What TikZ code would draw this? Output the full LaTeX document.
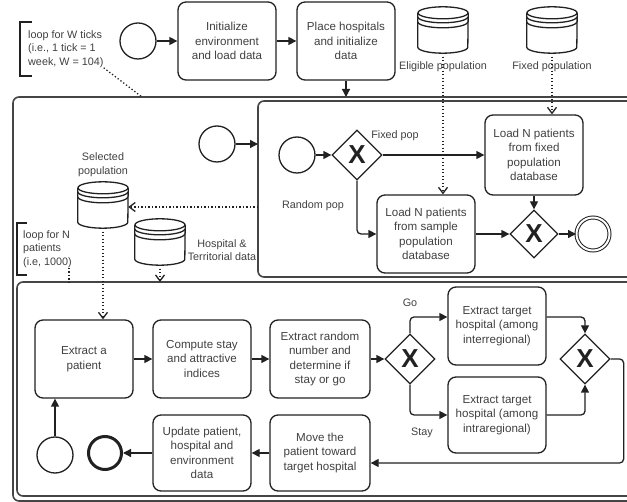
\documentclass[tikz,border=0pt]{standalone}
\usepackage{fontspec}
\setmainfont{Liberation Sans}
\usetikzlibrary{arrows.meta,shapes.geometric,calc}

\definecolor{linecol}{gray}{0.13}
\definecolor{framecol}{gray}{0.27}
\definecolor{textcol}{gray}{0.25}

\tikzset{
  task/.style={draw=linecol, line width=1.3pt, rounded corners=8pt, minimum width=98pt,
    minimum height=78pt, align=center, text=textcol, inner sep=2pt,
    font=\fontsize{11.6}{14.5}\selectfont},
  event/.style={circle, draw=linecol, line width=1.3pt, minimum size=36pt, inner sep=0pt},
  endev/.style={event, line width=3pt, minimum size=33pt},
  enddouble/.style={event, line width=1pt, double=white, double distance=2pt, minimum size=33pt},
  gate/.style={diamond, aspect=1, draw=linecol, line width=1.3pt, minimum width=50pt,
    minimum height=50pt, inner sep=0pt, text=linecol, font=\bfseries\fontsize{26}{26}\selectfont},
  flow/.style={draw=linecol, line width=1.3pt, rounded corners=4pt, -{Triangle[length=8pt,width=8pt]}},
  assoc/.style={draw=linecol, line width=1.3pt, dash pattern=on 1.3pt off 2.2pt,
    -{Straight Barb[length=6pt,width=9pt]}},
  annot/.style={draw=linecol, line width=1.3pt, dash pattern=on 1.3pt off 2.2pt},
  bracket/.style={draw=linecol, line width=1.5pt},
  frame/.style={draw=framecol, line width=1.6pt, rounded corners=6pt},
  lbl/.style={text=textcol, inner sep=0pt, align=center, font=\fontsize{10.8}{13.6}\selectfont},
  dsbox/.style={minimum width=50pt, minimum height=46pt, inner sep=0pt},
  dsline/.style={draw=linecol, line width=1.3pt},
}

% data store: name, x, y
\newcommand{\dstore}[3]{%
  \node[dsbox] (#1) at (#2,#3) {};
  \draw[dsline] ($(#1.north)+(0,6)$) ellipse (25 and 6);
  \draw[dsline] ($(#1.north west)+(0,6)$) -- ($(#1.south west)+(0,-6)$) arc (180:0:25 and 6)
    -- ($(#1.north east)+(0,6)$);
  \draw[dsline] ($(#1.north west)+(0,10)$) arc (180:0:25 and 6);
  \draw[dsline] ($(#1.north west)+(0,15)$) arc (180:0:25 and 6);
}

\begin{document}
\begin{tikzpicture}[x=1pt,y=-1pt]
    \useasboundingbox (0,0) rectangle (627,502);
    \clip (0,0) rectangle (627,502);

    % frames
    \draw[frame] (13,97) rectangle (680,501);
    \draw[frame] (258,101) rectangle (680,277);
    \draw[frame] (17,282) rectangle (680,496);
    \coordinate (wtop) at (346,97);
    \coordinate (wnote) at (142,97);
    \coordinate (loadin) at (258,144);
    \coordinate (loadout) at (258,207);
    \coordinate (ntop) at (160,282);
    \coordinate (nnote) at (69,282);

    % top level
    \node[lbl, align=left, anchor=west] (wloop) at (28,49) {loop for W ticks\\(i.e., 1 tick = 1\\week, W = 104)};
    \draw[bracket] (32,22) -- (20,22) -- (20,76) -- (32,76);
    \node[event] (s0) at (138,41) {};
    \node[task] (init) at (227,41) {Initialize\\environment\\and load data};
    \node[task] (place) at (346,41) {Place hospitals\\and initialize\\data};
    \dstore{dbelig}{443}{30}
    \dstore{dbfix}{552}{30}
    \node[lbl] (lelig) at (443,67) {Eligible population};
    \node[lbl] (lfix) at (552,67) {Fixed population};
    \draw[annot] (wloop.south east) -- (wnote);
    \draw[flow] (s0) -- (init);
    \draw[flow] (init) -- (place);
    \draw[flow] (place) -- (wtop);

    % week loop
    \node[event] (s1) at (217,144) {};
    \draw[flow] (s1) -- (loadin);
    \dstore{dbsel}{103}{205}
    \node[lbl] (lsel) at (103,165) {Selected\\population};
    \dstore{dbhosp}{160}{242}
    \node[lbl] (lhosp) at (222,250) {Hospital \&\\Territorial data};
    \node[lbl, align=left, anchor=west] (nloop) at (23,249) {loop for N\\patients\\(i.e, 1000)};
    \draw[bracket] (27,223) -- (17,223) -- (17,275) -- (27,275);
    \draw[annot] (nnote |- nloop.south) -- (nnote);
    \draw[assoc] (loadout) -- (loadout -| dbsel.east);
    \draw[assoc] (dbhosp.south) -- (ntop);

    % loading subprocess
    \node[event] (s2) at (297,155) {};
    \node[gate] (g1) at (357,155) {X};
    \node[task, minimum height=80pt] (fixed) at (534,155) {Load N patients\\from fixed\\population\\database};
    \node[task] (sample) at (426,234) {Load N patients\\from sample\\population\\database};
    \node[gate, minimum width=48pt, minimum height=48pt] (g2) at (534,234) {X};
    \node[enddouble] (e1) at (593,234) {};
    \node[lbl] (lfixpop) at (395,136) {Fixed pop};
    \node[lbl] (lrandpop) at (313,206) {Random pop};
    \draw[flow] (s2) -- (g1);
    \draw[flow] (g1) -- (fixed);
    \draw[flow] (g1.south) |- (sample);
    \draw[flow] (sample) -- (g2);
    \draw[flow] (fixed) -- (g2);
    \draw[flow] (g2) -- (e1);
    \draw[assoc] (dbelig.south) -- (dbelig.south |- sample.north);
    \draw[assoc] (dbfix.south) -- (dbfix.south |- fixed.north);

    % patient loop
    \node[task] (extract) at (84,359) {Extract a\\patient};
    \node[task] (compute) at (202,359) {Compute stay\\and attractive\\indices};
    \node[task, minimum width=100pt] (random) at (320,359) {Extract random\\number and\\determine if\\stay or go};
    \node[gate] (g3) at (410,359) {X};
    \node[task] (inter) at (497,326) {Extract target\\hospital (among\\interregional)};
    \node[task, minimum height=76pt] (intra) at (497,415) {Extract target\\hospital (among\\intraregional)};
    \node[gate] (g4) at (585,359) {X};
    \node[task, minimum width=100pt, minimum height=76pt] (move) at (320,453) {Move the\\patient toward\\target hospital};
    \node[task, minimum height=76pt] (update) at (202,453) {Update patient,\\hospital and\\environment\\data};
    \node[endev] (e2) at (105,453) {};
    \node[event] (s3) at (55,455) {};
    \node[lbl] (lgo) at (410,303) {Go};
    \node[lbl] (lstay) at (422,433) {Stay};
    \draw[assoc] (dbsel.south) -- (dbsel.south |- extract.north);
    \draw[flow] (s3) -- (s3 |- extract.south);
    \draw[flow] (extract) -- (compute);
    \draw[flow] (compute) -- (random);
    \draw[flow] (random) -- (g3);
    \draw[flow] (g3.north) |- ($(inter.west)+(0,-9)$);
    \draw[flow] (g3.south) |- (intra);
    \draw[flow] ($(inter.east)+(0,-9)$) -| (g4.north);
    \draw[flow] (intra) -| (g4.south);
    \draw[flow] (g4.east) -- ++(13,0) |- ($(move.east)+(0,10)$);
    \draw[flow] (move) -- (update);
    \draw[flow] (update) -- (e2);
\end{tikzpicture}
\end{document}
